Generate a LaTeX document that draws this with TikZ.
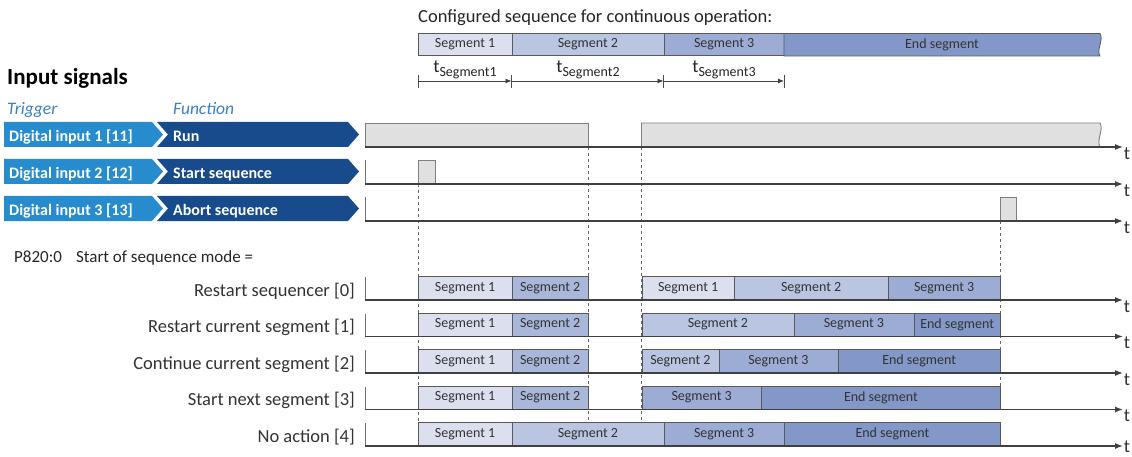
\documentclass[tikz,border=0pt]{standalone}
\usepackage{fontspec}
\setmainfont{Carlito}
\usepackage{xcolor}
\usetikzlibrary{arrows.meta}
\definecolor{segone}{HTML}{DCE0EE}
\definecolor{segtwo}{HTML}{B9C5E1}
\definecolor{segtwob}{HTML}{A9B7DA}
\definecolor{segthree}{HTML}{9CACD5}
\definecolor{segend}{HTML}{8398C8}
\definecolor{trigblue}{HTML}{268CCD}
\definecolor{funcblue}{HTML}{174B8C}
\definecolor{headblue}{HTML}{3A80C2}
\definecolor{sigfill}{HTML}{E0E0E0}
\newcommand{\tseg}[1]{{\fontsize{18.5}{20}\selectfont t}\raisebox{-3.5pt}{\fontsize{14}{16}\selectfont Segment#1}}
\tikzset{
  segbox/.style    = {draw=black!65, line width=0.8pt, inner sep=0pt, minimum height=23pt,
                      anchor=south west, text=black!80, font=\fontsize{14}{16}\selectfont},
  timeaxis/.style  = {-{Latex[length=8pt,width=6pt]}, line width=1.2pt, black!75},
  durarrow/.style  = {-{Latex[length=6pt,width=5pt]}, line width=0.8pt, black!75},
  tickln/.style    = {black!70, line width=0.8pt},
  tlabel/.style    = {font=\fontsize{18.5}{20}\selectfont, text=black!80, inner sep=0pt},
  modelabel/.style = {anchor=base east, font=\fontsize{18.5}{20}\selectfont, text=black!80, inner sep=0pt},
  sigline/.style   = {black!55, line width=0.9pt},
  sighigh/.style   = {fill=sigfill, draw=black!50, line width=0.9pt},
  guideln/.style   = {black!60, dashed, line width=0.7pt},
  bannertxt/.style = {anchor=base west, text=white, font=\bfseries\fontsize{16}{18}\selectfont, inner sep=0pt}
}

\begin{document}
\begin{tikzpicture}[x=1pt,y=-1pt]
  \useasboundingbox (0,0) rectangle (1132,457);
  % --- the configured sequence ---------------------------------------------
  \node[anchor=base west, inner sep=0pt, text=black!85, font=\fontsize{18.5}{20}\selectfont]
        (cfg) at (418,23) {Configured sequence for continuous operation:};
  \node[segbox, fill=segone, minimum height=22.5pt, minimum width=93.5pt] (c1) at (418,56) {Segment 1};
  \node[segbox, fill=segtwo, minimum height=22.5pt, minimum width=152pt] (c2) at (511.5,56) {Segment 2};
  \node[segbox, fill=segthree, minimum height=22.5pt, minimum width=120.5pt] (c3) at (663.5,56) {Segment 3};
  \filldraw[fill=segend, draw=black!65, line width=0.8pt]
        (784,33.5) -- (1100,33.5) .. controls (1104,40) and (1096,50) .. (1100,56) -- (784,56) -- cycle;
  \node[text=black!80, font=\fontsize{14}{16}\selectfont] (c4) at (942,44.5) {End segment};
  % segment times
  \coordinate (k1) at (418,81);
  \coordinate (k2) at (511.5,81);
  \coordinate (k3) at (663.5,81);
  \coordinate (k4) at (784,81);
  \foreach \xk in {418,511.5,663.5,784}
    \draw[tickln] (\xk,75) -- (\xk,88);
  \draw[durarrow] (k1) -- (k2);
  \draw[durarrow] (k2) -- (k3);
  \draw[durarrow] (k3) -- (k4);
  \node[anchor=base, inner sep=0pt, text=black!85] (d1) at (465,73) {\tseg{1}};
  \node[anchor=base, inner sep=0pt, text=black!85] (d2) at (588,73) {\tseg{2}};
  \node[anchor=base, inner sep=0pt, text=black!85] (d3) at (724,73) {\tseg{3}};

  % --- input signals --------------------------------------------------------
  \node[anchor=base west, inner sep=0pt, font=\bfseries\fontsize{23}{26}\selectfont]
        (insig) at (7,85) {Input signals};
  \node[anchor=base west, inner sep=0pt, text=headblue, font=\itshape\fontsize{17.5}{20}\selectfont]
        (trig) at (7,115) {Trigger};
  \node[anchor=base west, inner sep=0pt, text=headblue, font=\itshape\fontsize{17.5}{20}\selectfont]
        (func) at (173,115) {Function};
  % banners: trigger and function
  \fill[trigblue] (4,122) -- (152,122) -- (163,134.5) -- (152,147) -- (4,147) -- cycle;
  \fill[funcblue] (157,122) -- (348,122) -- (359,134.5) -- (348,147) -- (157,147) -- (168,134.5) -- cycle;
  \fill[trigblue] (4,159) -- (152,159) -- (163,171.5) -- (152,184) -- (4,184) -- cycle;
  \fill[funcblue] (157,159) -- (348,159) -- (359,171.5) -- (348,184) -- (157,184) -- (168,171.5) -- cycle;
  \fill[trigblue] (4,196) -- (152,196) -- (163,208.5) -- (152,221) -- (4,221) -- cycle;
  \fill[funcblue] (157,196) -- (348,196) -- (359,208.5) -- (348,221) -- (157,221) -- (168,208.5) -- cycle;
  \node[bannertxt] (in1) at (9,141.5) {Digital input 1 [11]};
  \node[bannertxt] (in2) at (9,178.5) {Digital input 2 [12]};
  \node[bannertxt] (in3) at (9,215.5) {Digital input 3 [13]};
  \node[bannertxt] (fn1) at (173,141.5) {Run};
  \node[bannertxt] (fn2) at (173,178.5) {Start sequence};
  \node[bannertxt] (fn3) at (173,215.5) {Abort sequence};

  % --- guide lines at the switching instants --------------------------------
  \draw[guideln] (418,184) -- (418,424);
  \draw[guideln] (588,147) -- (588,424);
  \draw[guideln] (641.5,147) -- (641.5,424);
  \draw[guideln] (1000,221) -- (1000,410);

  % --- signal traces ----------------------------------------------------------
  \draw[sighigh] (365,147) -- (365,123) -- (588,123) -- (588,147);
  \draw[sighigh] (641.5,147) -- (641.5,123) -- (1100,123)
        .. controls (1104,130) and (1096,140) .. (1100,147);
  \draw[sigline] (365,160) -- (365,184);
  \draw[sighigh] (418,184) rectangle (435,160);
  \draw[sigline] (365,197) -- (365,221);
  \draw[sighigh] (1000,221) rectangle (1016.5,197);
  \coordinate (s1s) at (365,147);   \coordinate (s1e) at (1123,147);
  \coordinate (s2s) at (365,184);   \coordinate (s2e) at (1123,184);
  \coordinate (s3s) at (365,221);   \coordinate (s3e) at (1123,221);
  \draw[timeaxis] (s1s) -- (s1e);
  \draw[timeaxis] (s2s) -- (s2e);
  \draw[timeaxis] (s3s) -- (s3e);
  \node[tlabel] (t1) at (1127,153.5) {t};
  \node[tlabel] (t2) at (1127,190.5) {t};
  \node[tlabel] (t3) at (1127,227.5) {t};

  % --- start of sequence mode -----------------------------------------------
  \node[anchor=base west, inner sep=0pt, text=black!85, font=\fontsize{17}{20}\selectfont]
        (par) at (14,262) {P820:0\hspace{0.6em} Start of sequence mode =};
  \node[modelabel] (m0) at (355,296) {Restart sequencer [0]};
  \node[modelabel] (m1) at (355,332.5) {Restart current segment [1]};
  \node[modelabel] (m2) at (355,369) {Continue current segment [2]};
  \node[modelabel] (m3) at (355,405.5) {Start next segment [3]};
  \node[modelabel] (m4) at (355,442) {No action [4]};
  % restart sequencer
  \node[segbox, fill=segone, minimum width=93.5pt] (r0a) at (418,300) {Segment 1};
  \node[segbox, fill=segtwob, minimum width=76.5pt] (r0b) at (511.5,300) {Segment 2};
  \node[segbox, fill=segone, minimum width=92.5pt] (r0c) at (641.5,300) {Segment 1};
  \node[segbox, fill=segtwo, minimum width=153.5pt] (r0d) at (734,300) {Segment 2};
  \node[segbox, fill=segthree, minimum width=112.5pt] (r0e) at (887.5,300) {Segment 3};
  % restart current segment
  \node[segbox, fill=segone, minimum width=93.5pt] (r1a) at (418,336.5) {Segment 1};
  \node[segbox, fill=segtwob, minimum width=76.5pt] (r1b) at (511.5,336.5) {Segment 2};
  \node[segbox, fill=segtwo, minimum width=152pt] (r1c) at (641.5,336.5) {Segment 2};
  \node[segbox, fill=segthree, minimum width=120pt] (r1d) at (793.5,336.5) {Segment 3};
  \node[segbox, fill=segend, minimum width=86.5pt] (r1e) at (913.5,336.5) {End segment};
  % continue current segment
  \node[segbox, fill=segone, minimum width=93.5pt] (r2a) at (418,373) {Segment 1};
  \node[segbox, fill=segtwob, minimum width=76.5pt] (r2b) at (511.5,373) {Segment 2};
  \node[segbox, fill=segtwo, minimum width=77pt] (r2c) at (641.5,373) {Segment 2};
  \node[segbox, fill=segthree, minimum width=119pt] (r2d) at (718.5,373) {Segment 3};
  \node[segbox, fill=segend, minimum width=162.5pt] (r2e) at (837.5,373) {End segment};
  % start next segment
  \node[segbox, fill=segone, minimum width=93.5pt] (r3a) at (418,409.5) {Segment 1};
  \node[segbox, fill=segtwob, minimum width=76.5pt] (r3b) at (511.5,409.5) {Segment 2};
  \node[segbox, fill=segthree, minimum width=119.5pt] (r3c) at (641.5,409.5) {Segment 3};
  \node[segbox, fill=segend, minimum width=239pt] (r3d) at (761,409.5) {End segment};
  % no action
  \node[segbox, fill=segone, minimum width=93.5pt] (r4a) at (418,446) {Segment 1};
  \node[segbox, fill=segtwo, minimum width=152pt] (r4b) at (511.5,446) {Segment 2};
  \node[segbox, fill=segthree, minimum width=120.5pt] (r4c) at (663.5,446) {Segment 3};
  \node[segbox, fill=segend, minimum width=216pt] (r4d) at (784,446) {End segment};
  % step edges and time axes of the mode rows
  \draw[sigline] (365,277) -- (365,300);
  \draw[sigline] (365,313.5) -- (365,336.5);
  \draw[sigline] (365,350) -- (365,373);
  \draw[sigline] (365,386.5) -- (365,409.5);
  \draw[sigline] (365,423) -- (365,446);
  \coordinate (a0s) at (365,300);   \coordinate (a0e) at (1123,300);
  \coordinate (a1s) at (365,336.5); \coordinate (a1e) at (1123,336.5);
  \coordinate (a2s) at (365,373);   \coordinate (a2e) at (1123,373);
  \coordinate (a3s) at (365,409.5); \coordinate (a3e) at (1123,409.5);
  \coordinate (a4s) at (365,446);   \coordinate (a4e) at (1123,446);
  \draw[timeaxis] (a0s) -- (a0e);
  \draw[timeaxis] (a1s) -- (a1e);
  \draw[timeaxis] (a2s) -- (a2e);
  \draw[timeaxis] (a3s) -- (a3e);
  \draw[timeaxis] (a4s) -- (a4e);
  \node[tlabel] (t4) at (1127,306.5) {t};
  \node[tlabel] (t5) at (1127,343) {t};
  \node[tlabel] (t6) at (1127,379.5) {t};
  \node[tlabel] (t7) at (1127,416) {t};
  \node[tlabel] (t8) at (1127,447) {t};
\end{tikzpicture}
\end{document}
